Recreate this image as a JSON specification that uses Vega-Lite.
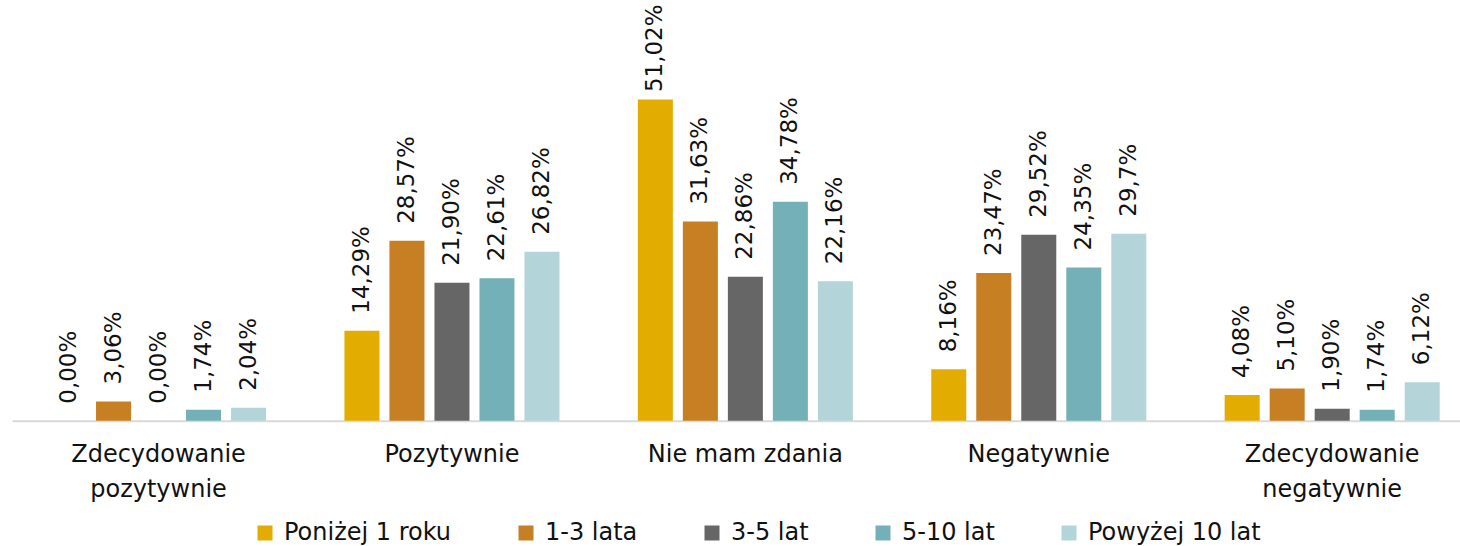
{
  "$schema": "https://vega.github.io/schema/vega-lite/v6.json",
  "autosize": {"type": "none"},
  "padding": {"left": 12, "top": 43, "right": 0, "bottom": 125},
  "width": 1448,
  "height": 377.7,
  "config": {"view": {"stroke": null}, "font": "DejaVu Sans"},
  "data": {"values": [
    {"cat": "Zdecydowanie pozytywnie", "series": "Poniżej 1 roku", "value": 0.00, "label": "0,00%"},
    {"cat": "Zdecydowanie pozytywnie", "series": "1-3 lata", "value": 3.06, "label": "3,06%"},
    {"cat": "Zdecydowanie pozytywnie", "series": "3-5 lat", "value": 0.00, "label": "0,00%"},
    {"cat": "Zdecydowanie pozytywnie", "series": "5-10 lat", "value": 1.74, "label": "1,74%"},
    {"cat": "Zdecydowanie pozytywnie", "series": "Powyżej 10 lat", "value": 2.04, "label": "2,04%"},
    {"cat": "Pozytywnie", "series": "Poniżej 1 roku", "value": 14.29, "label": "14,29%"},
    {"cat": "Pozytywnie", "series": "1-3 lata", "value": 28.57, "label": "28,57%"},
    {"cat": "Pozytywnie", "series": "3-5 lat", "value": 21.90, "label": "21,90%"},
    {"cat": "Pozytywnie", "series": "5-10 lat", "value": 22.61, "label": "22,61%"},
    {"cat": "Pozytywnie", "series": "Powyżej 10 lat", "value": 26.82, "label": "26,82%"},
    {"cat": "Nie mam zdania", "series": "Poniżej 1 roku", "value": 51.02, "label": "51,02%"},
    {"cat": "Nie mam zdania", "series": "1-3 lata", "value": 31.63, "label": "31,63%"},
    {"cat": "Nie mam zdania", "series": "3-5 lat", "value": 22.86, "label": "22,86%"},
    {"cat": "Nie mam zdania", "series": "5-10 lat", "value": 34.78, "label": "34,78%"},
    {"cat": "Nie mam zdania", "series": "Powyżej 10 lat", "value": 22.16, "label": "22,16%"},
    {"cat": "Negatywnie", "series": "Poniżej 1 roku", "value": 8.16, "label": "8,16%"},
    {"cat": "Negatywnie", "series": "1-3 lata", "value": 23.47, "label": "23,47%"},
    {"cat": "Negatywnie", "series": "3-5 lat", "value": 29.52, "label": "29,52%"},
    {"cat": "Negatywnie", "series": "5-10 lat", "value": 24.35, "label": "24,35%"},
    {"cat": "Negatywnie", "series": "Powyżej 10 lat", "value": 29.7, "label": "29,7%"},
    {"cat": "Zdecydowanie negatywnie", "series": "Poniżej 1 roku", "value": 4.08, "label": "4,08%"},
    {"cat": "Zdecydowanie negatywnie", "series": "1-3 lata", "value": 5.10, "label": "5,10%"},
    {"cat": "Zdecydowanie negatywnie", "series": "3-5 lat", "value": 1.90, "label": "1,90%"},
    {"cat": "Zdecydowanie negatywnie", "series": "5-10 lat", "value": 1.74, "label": "1,74%"},
    {"cat": "Zdecydowanie negatywnie", "series": "Powyżej 10 lat", "value": 6.12, "label": "6,12%"}
  ]},
  "encoding": {
    "x": {
      "field": "cat", "type": "nominal",
      "sort": ["Zdecydowanie pozytywnie", "Pozytywnie", "Nie mam zdania", "Negatywnie", "Zdecydowanie negatywnie"],
      "scale": {"paddingInner": 0.233, "paddingOuter": 0.084, "align": 0.69},
      "axis": {
        "title": null, "labelAngle": 0, "labelFontSize": 24, "labelColor": "#111111",
        "ticks": false, "domainColor": "#D9D9D9", "domainWidth": 2, "grid": false,
        "labelPadding": 22, "labelLineHeight": 35, "labelLimit": 400,
        "labelExpr": "indexof(datum.label, 'Zdecydowanie') == 0 ? split(datum.label, ' ') : datum.label"
      }
    },
    "xOffset": {
      "field": "series", "type": "nominal",
      "sort": ["Poniżej 1 roku", "1-3 lata", "3-5 lat", "5-10 lat", "Powyżej 10 lat"],
      "scale": {"paddingInner": 0.222, "paddingOuter": 0.111}
    }
  },
  "layer": [
    {
      "mark": {"type": "bar"},
      "encoding": {
        "y": {"field": "value", "type": "quantitative", "scale": {"domain": [0, 60], "nice": false}, "axis": null},
        "color": {
          "field": "series", "type": "nominal",
          "sort": ["Poniżej 1 roku", "1-3 lata", "3-5 lat", "5-10 lat", "Powyżej 10 lat"],
          "scale": {
            "domain": ["Poniżej 1 roku", "1-3 lata", "3-5 lat", "5-10 lat", "Powyżej 10 lat"],
            "range": ["#E3AC00", "#C67F22", "#666666", "#74B0B7", "#B3D5D9"]
          },
          "legend": {
            "orient": "none", "legendX": 241, "legendY": 478, "direction": "horizontal",
            "title": null, "symbolType": "square", "symbolSize": 225, "symbolStrokeWidth": 0,
            "labelFontSize": 24, "labelColor": "#111111", "labelOffset": 7, "columnPadding": 62,
            "labelLimit": 400
          }
        }
      }
    },
    {
      "mark": {"type": "text", "angle": 270, "align": "left", "baseline": "middle", "dx": 17, "fontSize": 23, "color": "#111111"},
      "encoding": {
        "y": {"field": "value", "type": "quantitative", "scale": {"domain": [0, 49.5], "range": [377.7, 66.1], "clamp": true, "nice": false, "zero": true}, "axis": null},
        "text": {"field": "label"}
      }
    }
  ],
  "resolve": {"scale": {"y": "independent"}}
}
